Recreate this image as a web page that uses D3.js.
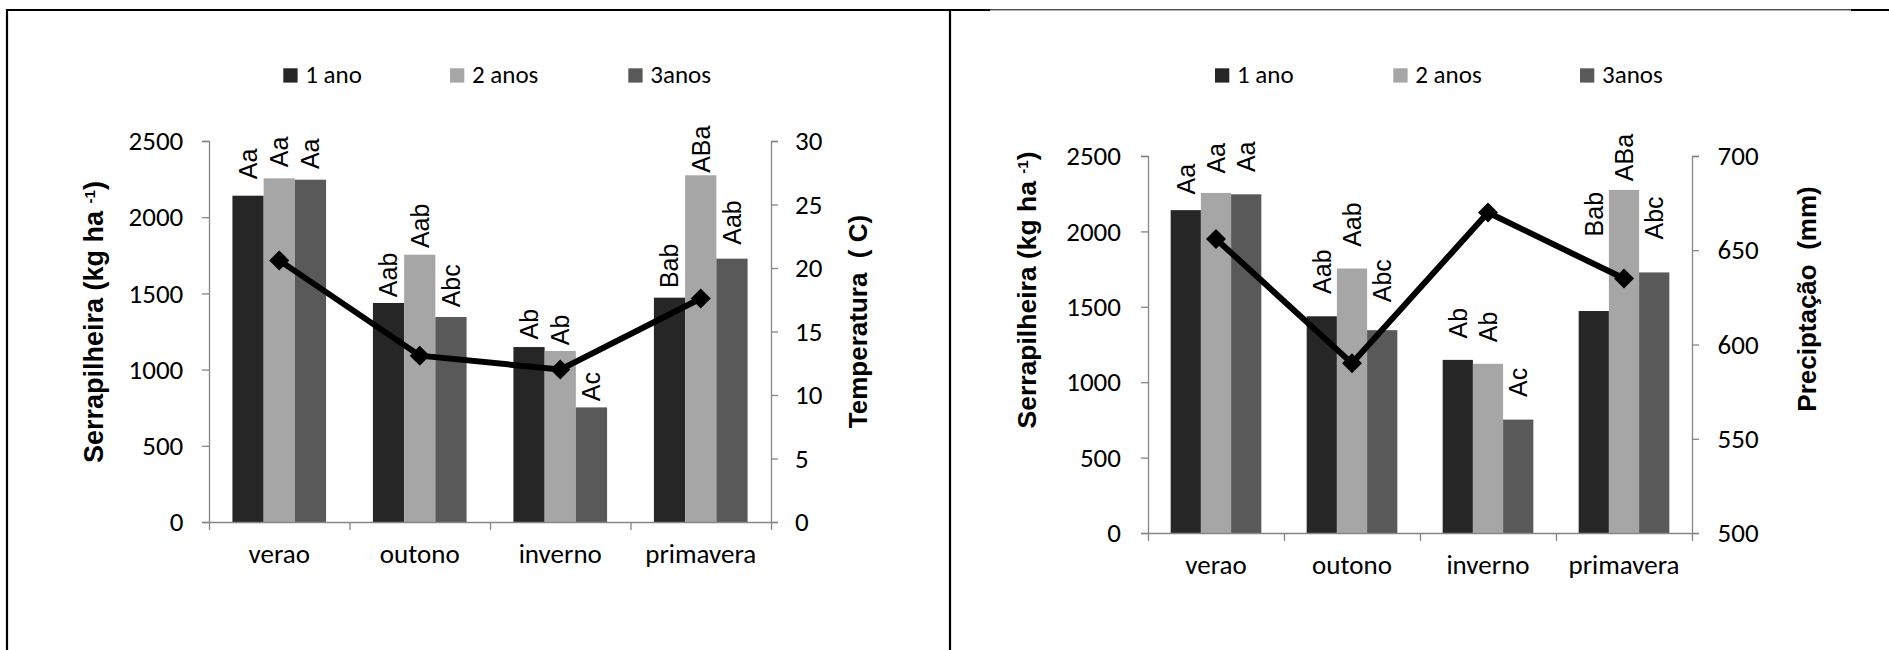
<!DOCTYPE html>
<html>
<head>
<meta charset="utf-8">
<script src="https://cdn.jsdelivr.net/npm/d3@7"></script>
<style>
  body { margin: 0; background: #fff; }
  svg { display: block; }
</style>
</head>
<body>
<div id="chart"></div>
<script>
// --- data ---
const seasons = ['verao', 'outono', 'inverno', 'primavera'];
const seriesNames = ['1 ano', '2 anos', '3anos'];
const litter1 = [2141, 1437, 1148, 1472];
const litter2 = [2255, 1754, 1122, 2275];
const litter3 = [2246, 1345, 752, 1728];
const temperature = [20.6, 13.1, 12.0, 17.6];
const precipitation = [656, 590, 670, 635];

const lettersTemp = [['Aa', 'Aa', 'Aa'], ['Aab', 'Aab', 'Abc'], ['Ab', 'Ab', 'Ac'], ['Bab', 'ABa', 'Aab']];
const lettersPrec = [['Aa', 'Aa', 'Aa'], ['Aab', 'Aab', 'Abc'], ['Ab', 'Ab', 'Ac'], ['Bab', 'ABa', 'Abc']];
// level (kg ha-1) at which each letter label is centred
const letterLevelTemp = [[2350, 2428, 2416], [1621, 1943, 1550], [1298, 1260, 888], [1681, 2446, 1965]];
const letterLevelPrec = [[2346, 2485, 2495], [1733, 2045, 1673], [1391, 1367, 999], [2114, 2490, 2089]];

const litterTicks = [0, 500, 1000, 1500, 2000, 2500];
const tempTicks = [0, 5, 10, 15, 20, 25, 30];
const precTicks = [500, 550, 600, 650, 700];

const barColors = ['#262626', '#a6a6a6', '#595959'];
const axisColor = '#868686';
const tickFont = 'Carlito, Lato, sans-serif';
const titleFont = '"Liberation Sans", Arial, sans-serif';

const width = 1889, height = 650;
const svg = d3.select('#chart').append('svg')
    .attr('width', width)
    .attr('height', height);

// frame lines
svg.append('path').attr('d', 'M7,650V10H990').attr('fill', 'none').attr('stroke', '#000').attr('stroke-width', 2.2);
svg.append('line').attr('x1', 950).attr('y1', 10).attr('x2', 950).attr('y2', 650).attr('stroke', '#000').attr('stroke-width', 2.2);
svg.append('line').attr('x1', 990).attr('y1', 9.8).attr('x2', 1851).attr('y2', 9.8).attr('stroke', '#000').attr('stroke-width', 1);
svg.append('line').attr('x1', 1851).attr('y1', 10).attr('x2', 1889).attr('y2', 10).attr('stroke', '#000').attr('stroke-width', 2.2);

const litter = seasons.map((s, i) => [litter1[i], litter2[i], litter3[i]]);

function drawPanel(cfg) {
    const g = svg.append('g');
    const { left, right, top, bottom } = cfg.plot;

    const y = d3.scaleLinear().domain([0, 2500]).range([bottom, top]);
    const y2 = d3.scaleLinear().domain(cfg.y2Domain).range([bottom, top]);
    const x0 = d3.scaleBand().domain(seasons).range([left, right]).padding(0);
    const x1 = d3.scaleBand().domain(seriesNames).range([0, x0.bandwidth()]).paddingInner(0).paddingOuter(0.75);
    const xEdge = d3.scaleLinear().domain([0, seasons.length]).range([left, right]);

    // bars
    const groups = g.selectAll('g.season')
        .data(seasons)
        .join('g')
        .attr('transform', d => `translate(${x0(d)},0)`);

    groups.selectAll('rect')
        .data((d, i) => litter[i].map((v, j) => ({ v, j })))
        .join('rect')
        .attr('x', d => x1(seriesNames[d.j]))
        .attr('y', d => y(d.v))
        .attr('width', x1.bandwidth())
        .attr('height', d => y(0) - y(d.v))
        .attr('fill', d => barColors[d.j]);

    // letter labels
    groups.selectAll('text')
        .data((d, i) => cfg.letters[i].map((t, j) => ({ t, j, lv: cfg.levels[i][j] })))
        .join('text')
        .attr('transform', d => `translate(${x1(seriesNames[d.j]) + x1.bandwidth() / 2},${y(d.lv)}) rotate(-90)`)
        .attr('text-anchor', 'middle')
        .attr('dy', '0.35em')
        .attr('font-family', titleFont)
        .attr('font-size', 25)
        .attr('fill', '#000')
        .text(d => d.t);

    // left axis
    const axL = g.append('g')
        .attr('transform', `translate(${left},0)`)
        .call(d3.axisLeft(y).tickValues(litterTicks).tickFormat(d3.format('d'))
            .tickSize(7).tickSizeOuter(7).tickPadding(cfg.padL));
    // right axis
    const axR = g.append('g')
        .attr('transform', `translate(${right},0)`)
        .call(d3.axisRight(y2).tickValues(cfg.y2Ticks).tickFormat(d3.format('d'))
            .tickSize(7).tickSizeOuter(7).tickPadding(cfg.padR));
    // bottom axis with boundary ticks
    const axB = g.append('g')
        .attr('transform', `translate(0,${bottom})`)
        .call(d3.axisBottom(xEdge).tickValues(d3.range(seasons.length + 1)).tickFormat('').tickSize(8).tickSizeOuter(0));

    [axL, axR, axB].forEach(ax => {
        ax.selectAll('path, line').attr('stroke', axisColor).attr('stroke-width', 1.3);
        ax.selectAll('text').attr('fill', '#000').attr('font-family', tickFont).attr('font-size', 27);
    });

    // category labels
    g.selectAll('text.cat')
        .data(seasons)
        .join('text')
        .attr('class', 'cat')
        .attr('x', d => x0(d) + x0.bandwidth() / 2)
        .attr('y', bottom + 41)
        .attr('text-anchor', 'middle')
        .attr('font-family', tickFont)
        .attr('font-size', 27)
        .text(d => d);

    // line + diamond markers
    const pts = seasons.map((s, i) => [x0(s) + x0.bandwidth() / 2, y2(cfg.lineValues[i])]);
    g.append('path')
        .attr('d', d3.line()(pts))
        .attr('fill', 'none')
        .attr('stroke', '#000')
        .attr('stroke-width', 6)
        .attr('stroke-linejoin', 'round');
    g.selectAll('path.mk')
        .data(pts)
        .join('path')
        .attr('class', 'mk')
        .attr('d', d3.symbol().type(d3.symbolSquare).size(200))
        .attr('transform', d => `translate(${d[0]},${d[1]}) rotate(45)`)
        .attr('fill', '#000');

    // axis titles
    const yt = g.append('text')
        .attr('transform', `translate(${cfg.titleL.x},${cfg.titleL.y}) rotate(-90)`)
        .attr('text-anchor', 'middle')
        .attr('font-family', titleFont)
        .attr('font-weight', 'bold')
        .attr('font-size', cfg.titleL.size);
    yt.append('tspan').text('Serrapilheira (kg ha ');
    yt.append('tspan').attr('font-size', 15).attr('baseline-shift', '55%').text('-1');
    yt.append('tspan').text(')');

    g.append('text')
        .attr('transform', `translate(${cfg.titleR.x},${cfg.titleR.y}) rotate(-90)`)
        .attr('text-anchor', 'middle')
        .attr('font-family', titleFont)
        .attr('font-weight', 'bold')
        .attr('font-size', 26)
        .attr('xml:space', 'preserve')
        .text(cfg.titleR.text);

    // legend
    seriesNames.forEach((name, j) => {
        const lx = cfg.legendX[j];
        g.append('rect')
            .attr('x', lx).attr('y', 68.3)
            .attr('width', 14.3).attr('height', 14.3)
            .attr('fill', barColors[j]);
        g.append('text')
            .attr('x', lx + 22).attr('y', 83)
            .attr('font-family', tickFont)
            .attr('font-size', 25)
            .text(name);
    });
}

drawPanel({
    plot: { left: 209, right: 771, top: 141, bottom: 522 },
    y2Domain: [0, 30],
    y2Ticks: tempTicks,
    lineValues: temperature,
    letters: lettersTemp,
    levels: letterLevelTemp,
    padL: 18.7, padR: 17,
    titleL: { x: 103, y: 322, size: 27 },
    titleR: { x: 867, y: 321.5, text: 'Temperatura  ( C)' },
    legendX: [283.3, 450, 628.3]
});

drawPanel({
    plot: { left: 1148, right: 1692, top: 156, bottom: 533 },
    y2Domain: [500, 700],
    y2Ticks: precTicks,
    lineValues: precipitation,
    letters: lettersPrec,
    levels: letterLevelPrec,
    padL: 20, padR: 18.6,
    titleL: { x: 1036, y: 290, size: 26.5 },
    titleR: { x: 1816, y: 299, text: 'Preciptação  (mm)' },
    legendX: [1215, 1393.3, 1580]
});
</script>
</body>
</html>
